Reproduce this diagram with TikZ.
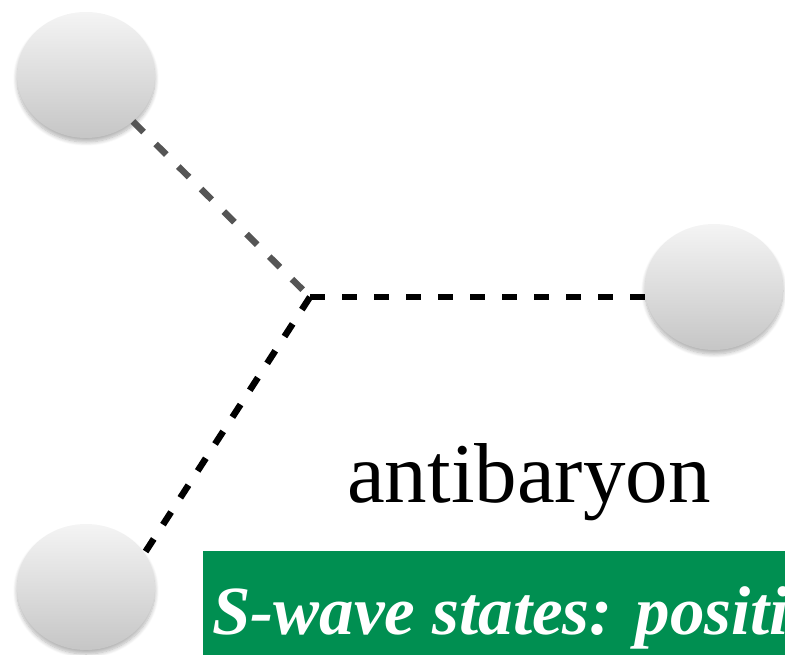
\documentclass[tikz,border=0pt]{standalone}
\usepackage{fontspec}
\setmainfont{Liberation Serif}
\usetikzlibrary{shapes.geometric,shadows.blur}
\definecolor{ballTop}{RGB}{244,244,244}
\definecolor{ballBottom}{RGB}{198,198,198}
\definecolor{linkGrey}{RGB}{85,85,85}
\definecolor{bannerGreen}{RGB}{0,143,81}
\tikzset{
  quark/.style={ellipse, minimum width=138pt, minimum height=126pt, inner sep=0pt,
    top color=ballTop, bottom color=ballBottom, draw=none,
    blur shadow={shadow xshift=0pt, shadow yshift=-4pt, shadow blur steps=8, shadow blur radius=4pt, shadow opacity=30}},
  string/.style={line width=6.5pt, dash pattern=on 15pt off 17pt},
}
\begin{document}
\begin{tikzpicture}[x=1pt,y=-1pt]
\useasboundingbox (0,0) rectangle (785,654);
\clip (0,0) rectangle (785,654);

% three antiquarks
\node[quark] (q1) at (86,75) {};
\node[quark] (q2) at (714,287) {};
\node[quark] (q3) at (86,587) {};

% junction of the flux tubes
\coordinate (v) at (310,297);

\draw[string, color=linkGrey] (q1) -- (v);
\draw[string] (v) -- (v -| q2.west);
\draw[string] (v) -- (q3.30);

\node[anchor=base, inner sep=0pt, font=\fontsize{85}{88}\selectfont] (lbl) at (529,502) {antibaryon};

% banner
\fill[bannerGreen] (203,551) rectangle (800,660);
\node[anchor=base west, inner sep=0pt, text=white,
  font=\fontsize{69}{72}\selectfont\bfseries\itshape] (banner) at (212,634) {S-wave states: positive};
\end{tikzpicture}
\end{document}
